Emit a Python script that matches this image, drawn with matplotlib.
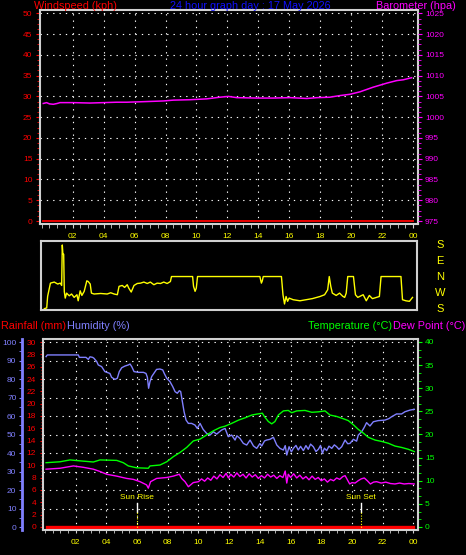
import matplotlib
matplotlib.use('Agg')
import matplotlib.pyplot as plt
import matplotlib.transforms as mtransforms
from matplotlib.ticker import MultipleLocator, AutoMinorLocator

plt.rcParams['font.family'] = ['Liberation Sans', 'DejaVu Sans']

# ---- data ----
title = '24 hour graph day : 17 May 2026'
hour_ticks = [2, 4, 6, 8, 10, 12, 14, 16, 18, 20, 22, 24]
hour_labels = ['02', '04', '06', '08', '10', '12', '14', '16', '18', '20', '22', '00']

# wind speed (kph) - flat zero all day
wind_hours = [0.1, 24.0]
wind_speed = [0, 0]

# barometer (hpa)
baro_hours = [0.1, 0.32, 0.5, 0.75, 1.0, 1.18, 2.04, 3.12, 3.98, 4.84, 5.5, 6.35,
              7.86, 8.5, 9.58, 10.65, 11.5, 12.06, 12.6, 13.9, 14.96, 16.04,
              17.12, 17.8, 18.6, 19.27, 19.9, 20.56, 21.4, 22.3, 22.93, 23.36, 23.9]
baro_values = [1003.3, 1003.5, 1003.2, 1003.1, 1003.3, 1003.5, 1003.5, 1003.4, 1003.5,
               1003.6, 1003.6, 1003.7, 1003.9, 1004.1, 1004.2, 1004.4, 1004.8, 1005.0,
               1004.7, 1004.6, 1004.6, 1004.7, 1004.5, 1004.7, 1004.8, 1005.2, 1005.5,
               1006.1, 1007.2, 1008.2, 1008.8, 1009.0, 1009.5]

# wind direction (degrees)
dir_hours = [0.13, 0.28, 0.34, 0.52, 0.77, 0.99, 1.16, 1.25, 1.29, 1.33, 1.38, 1.42,
             1.48, 1.57, 1.74, 1.89, 2.06, 2.24, 2.32, 2.45, 2.56, 2.71, 2.88, 2.97,
             3.1, 3.18, 3.35, 3.78, 4.2, 4.43, 4.65, 4.86, 4.97, 5.18, 5.33, 5.5, 5.6,
             5.76, 5.94, 6.15, 6.37, 6.58, 6.8, 7.0, 7.23, 7.44, 7.66, 7.87, 8.09, 8.3,
             8.37, 9.74, 9.8, 9.9, 9.98, 10.06, 14.1, 14.2, 14.26, 14.32, 15.5, 15.6,
             15.7, 15.8, 15.9, 16.0, 16.26, 16.7, 17.1, 17.5, 18.0, 18.3, 18.5, 18.6,
             18.7, 18.8, 19.05, 19.27, 19.48, 19.6, 19.7, 19.8, 20.17, 20.3, 20.45,
             20.8, 21.0, 21.2, 21.4, 21.85, 21.96, 23.25, 23.35, 23.57, 23.8, 24.0]
dir_values = [3, 7, 72, 146, 152, 141, 146, 133, 360, 308, 308, 100,
              62, 90, 75, 85, 66, 81, 47, 103, 77, 100, 159, 155,
              141, 90, 85, 88, 85, 92, 85, 81, 128, 133, 122, 137, 118,
              96, 133, 144, 146, 152, 144, 152, 137, 146, 144, 152, 144, 155,
              183, 183, 128, 100, 118, 183, 183, 146, 159, 183, 183, 81,
              29, 71, 44, 62, 53, 47, 53, 59, 71, 81, 109, 183,
              128, 90, 77, 90, 72, 66, 90, 183, 183, 81, 66,
              81, 47, 77, 59, 71, 183, 183, 53, 47, 44, 66]
dir_labels = ['S', 'E', 'N', 'W', 'S']
dir_label_pos = [360, 270, 180, 90, 0]

# humidity (%)
hum_hours = [0.07, 0.15, 2.17, 2.24, 2.67, 2.82, 2.93, 3.1, 3.19, 3.37, 3.47, 3.69, 3.9,
             4.23, 4.34, 4.56, 4.71, 4.84, 5.0, 5.21, 5.43, 5.54, 5.65, 5.8, 6.08,
             6.41, 6.58, 6.67, 6.75, 6.84, 6.95, 7.17, 7.27, 7.49, 7.67, 7.77, 7.93,
             8.14, 8.32, 8.47, 8.62, 8.75, 8.84, 8.95, 9.06, 9.19, 9.34, 9.55, 9.77,
             9.92, 10.1, 10.3, 10.53, 10.75, 10.97, 11.18, 11.5, 11.73, 11.94, 12.16,
             12.38, 12.5, 12.7, 12.92, 13.14, 13.36, 13.58, 13.79, 14.0, 14.12, 14.3,
             14.44, 14.66, 14.88, 15.1, 15.31, 15.53, 15.65, 15.75, 15.9, 16.05, 16.18,
             16.35, 16.5, 16.65, 16.83, 17.0, 17.15, 17.3, 17.48, 17.65, 17.81, 17.95,
             18.07, 18.2, 18.35, 18.5, 18.68, 18.85, 19.0, 19.15, 19.33, 19.55, 19.72,
             19.87, 20.09, 20.3, 20.41, 20.63, 20.8, 20.95, 21.17, 21.39, 21.7, 22.15,
             22.41, 22.58, 22.9, 23.23, 23.45, 23.78, 24.06]
hum_values = [92.1, 93, 93, 91.7, 91.7, 90.6, 92, 91.7, 91.2, 89.4, 87.6, 86.7, 84,
              83, 80.9, 79.8, 80.4, 84, 86.1, 87, 87.6, 88.1, 86.7, 84, 83.6,
              83.6, 83, 80.9, 75, 78.6, 81.3, 84, 85.2, 85.4, 84.9, 83, 80.4,
              78.6, 75.9, 73.2, 72.3, 73.7, 73.2, 67.7, 62.3, 57.8, 56, 56, 55.1,
              53.3, 56, 52.8, 50.6, 49.7, 51.5, 50.2, 52.4, 53.3, 48.8, 49.7,
              47, 49.3, 47.9, 45.2, 44.3, 47, 43.8, 42.5, 45.1, 43.8, 46.5,
              47, 47.4, 48.5, 44.3, 42.5, 41.6, 44.0, 38.9, 43.4, 40.6, 42.5,
              44.1, 41.6, 43.6, 41.3, 44.0, 42, 44.8, 43.4, 40.8, 42, 44.1,
              39.8, 42.6, 41.3, 43.7, 42.5, 44.4, 43.4, 42.0, 43.4, 47, 45.0,
              45.2, 47.4, 46.4, 49.7, 51.5, 53.9, 56.4, 54.6, 56.9, 57.5, 57.8,
              58.6, 59.6, 61.1, 61.1, 62.3, 63.2, 63.6]

# temperature (C)
temp_hours = [0.07, 0.98, 1.63, 2.28, 3.15, 3.58, 4.67, 5.1, 5.43, 5.97, 6.73, 6.84,
              7.49, 7.93, 8.36, 8.79, 9.23, 9.66, 10.1, 10.53, 10.97, 11.4, 11.73,
              12.16, 12.6, 13.03, 13.47, 13.79, 14.16, 14.29, 14.55, 14.77, 14.98,
              15.2, 15.53, 15.85, 16.07, 16.4, 16.94, 17.38, 17.81, 18.24, 18.57,
              19.0, 19.44, 19.76, 20.09, 20.41, 20.74, 21.06, 21.5, 21.93, 22.37,
              22.8, 23.23, 23.67, 24.06]
temp_values = [13.9, 14.1, 14.5, 14.3, 14.05, 14.5, 14.4, 13.9, 13.2, 12.8, 12.7, 13.2,
               13.4, 14.1, 15.2, 16.1, 17.2, 18.6, 19.0, 19.9, 20.8, 21.5, 21.8,
               22.4, 23.1, 23.6, 24.2, 24.4, 24.6, 23.9, 22.8, 22.3, 22.8,
               24.2, 25.1, 25.2, 24.7, 25.1, 25.2, 24.8, 24.9, 25.1, 24.2,
               23.9, 23.4, 23.0, 22.1, 21.1, 20.3, 19.4, 18.8, 18.5, 18.1,
               17.5, 17.2, 16.8, 16.3]

# dew point (C)
dew_hours = [0.07, 0.98, 1.85, 2.5, 3.15, 3.58, 4.02, 4.67, 5.32, 5.75, 6.19, 6.62,
             6.73, 6.88, 7.27, 7.93, 8.36, 8.75, 8.9, 9.12, 9.34, 9.66, 10.0, 10.2,
             10.4, 10.6, 10.8, 11.0, 11.2, 11.4, 11.6, 11.8, 11.95, 12.1, 12.3, 12.5,
             12.7, 12.9, 13.1, 13.3, 13.5, 13.7, 13.9, 14.1, 14.3, 14.5, 14.7, 14.9,
             15.1, 15.3, 15.5, 15.65, 15.75, 15.85, 16.0, 16.2, 16.4, 16.6, 16.8,
             17.0, 17.2, 17.4, 17.6, 17.8, 18.0, 18.2, 18.4, 18.6, 18.8, 19.0, 19.2,
             19.4, 19.55, 19.7, 19.85, 20.0, 20.2, 20.4, 20.6, 20.8, 21.0, 21.2, 21.4,
             21.6, 21.9, 22.2, 22.5, 22.8, 23.1, 23.4, 23.7, 24.05]
dew_values = [12.5, 12.7, 13.2, 12.9, 12.5, 12.0, 11.4, 11.0, 10.5, 10.3, 9.8, 9.1,
              8.4, 9.8, 10.5, 10.7, 11.0, 11.4, 10.5, 9.8, 8.7, 9.6, 9.8, 10.4,
              9.9, 10.6, 10.1, 11.0, 10.4, 11.3, 10.7, 11.6, 10.6, 11.4, 10.8, 11.7,
              10.9, 11.4, 10.6, 11.5, 10.8, 11.3, 10.5, 11.1, 10.6, 11.4, 10.8, 11.2,
              10.5, 11.1, 10.7, 12.1, 9.5, 11.4, 10.7, 11.5, 10.6, 11.2, 10.4,
              10.9, 10.2, 11.0, 10.3, 10.7, 10.0, 10.4, 9.7, 10.3, 10.0, 10.6, 10.3,
              10.9, 11.1, 10.2, 9.3, 9.6, 9.5, 10.0, 10.4, 10.6, 10.0, 9.3, 9.7,
              9.8, 9.5, 9.7, 9.4, 9.3, 9.5, 9.3, 9.4, 9.3]

# rainfall (mm) - none
rain_hours = [0.1, 24.0]
rain_values = [0, 0]

sunrise = 6.0
sunset = 20.6

# ---- styling ----
RED = '#ff0000'
MAG = '#ff00ff'
YEL = '#ffff00'
GRN = '#00ff00'
HUM = '#8080ff'
FRAME = '#d0d0d0'
grid_kw = dict(color='white', lw=0.8, ls=(0, (1.2, 4.5)))

W, H = 466, 555
fig = plt.figure(figsize=(W / 100, H / 100), dpi=100, facecolor='black')


def frac(x0, y0, x1, y1):
    # pixel box -> figure fraction rect
    return [x0 / W, 1 - y1 / H, (x1 - x0) / W, (y1 - y0) / H]


def style_frame(ax):
    ax.set_facecolor('none')
    for s in ax.spines.values():
        s.set_color(FRAME)
        s.set_linewidth(1.5)


# ---- top panel: wind speed + barometer ----
ax_w = fig.add_axes(frac(40, 10, 418, 224))
style_frame(ax_w)
ax_w.set_xlim(-0.11, 24.31)
ax_w.set_ylim(-0.72, 50.8)
ax_w.set_yticks(range(0, 51, 5))
ax_w.yaxis.set_minor_locator(AutoMinorLocator(4))
ax_w.set_xticks(hour_ticks, hour_labels)
ax_w.xaxis.set_minor_locator(MultipleLocator(0.5))
ax_w.tick_params(axis='y', which='both', colors=RED, labelsize=6, length=3, pad=2.5)
ax_w.tick_params(axis='y', which='minor', length=2)
ax_w.tick_params(axis='x', which='both', colors=FRAME, labelcolor=YEL, labelsize=6,
                 length=3, pad=3.5)
for h in hour_ticks:
    ax_w.axvline(h, **grid_kw)
for v in range(5, 51, 5):
    ax_w.axhline(v, **grid_kw)
ax_w.plot(wind_hours, wind_speed, color=RED, lw=1.3)

ax_b = ax_w.twinx()
ax_b.set_facecolor('none')
for s in ax_b.spines.values():
    s.set_visible(False)
ax_b.set_ylim(974.28, 1025.8)
ax_b.set_yticks(range(975, 1026, 5))
ax_b.yaxis.set_minor_locator(AutoMinorLocator(4))
ax_b.tick_params(axis='y', which='both', colors=MAG, labelsize=6, length=3, pad=2)
ax_b.tick_params(axis='y', which='minor', length=2)
ax_b.plot(baro_hours, baro_values, color=MAG, lw=1.1)

fig.text(34 / W, 1 - 6 / H, 'Windspeed (kph)', color=RED, fontsize=7.8, ha='left', va='center')
fig.text(250 / W, 1 - 6 / H, title, color='#1010ff', fontsize=7.8, ha='center', va='center')
fig.text(456 / W, 1 - 6 / H, 'Barometer (hpa)', color=MAG, fontsize=7.8, ha='right', va='center')

# ---- wind direction strip ----
ax_d = fig.add_axes(frac(40.7, 240.7, 417.3, 309.7))
style_frame(ax_d)
ax_d.set_xlim(-0.11, 24.31)
ax_d.set_ylim(-3, 384)
ax_d.set_xticks([])
ax_d.set_yticks([])
ax_d.plot(dir_hours, dir_values, color=YEL, lw=1.0)
trans_d = mtransforms.blended_transform_factory(ax_d.transAxes, ax_d.transData)
for lab, pos in zip(dir_labels, dir_label_pos):
    ax_d.text(1.06, pos, lab, transform=trans_d, color=YEL, fontsize=8,
              ha='center', va='center', clip_on=False)

# ---- bottom panel: rainfall, humidity, temperature, dew point ----
ax_r = fig.add_axes(frac(42.7, 339.3, 418, 530))
style_frame(ax_r)
ax_r.set_xlim(-0.15, 24.3)
ax_r.set_ylim(-0.49, 30.44)
ax_r.set_yticks(range(0, 31, 2))
ax_r.yaxis.set_minor_locator(AutoMinorLocator(4))
ax_r.set_xticks(hour_ticks, hour_labels)
ax_r.xaxis.set_minor_locator(MultipleLocator(0.5))
ax_r.tick_params(axis='y', which='both', colors=RED, labelsize=6, length=2.2, pad=2.5)
ax_r.tick_params(axis='y', which='minor', length=1.5)
ax_r.tick_params(axis='x', which='both', colors=FRAME, labelcolor=YEL, labelsize=6,
                 length=2.5, pad=4)

ax_h = ax_r.twinx()
ax_h.set_facecolor('none')
for s in ax_h.spines.values():
    s.set_visible(False)
ax_h.spines['left'].set_visible(True)
ax_h.spines['left'].set_position(('outward', 14.9))
ax_h.spines['left'].set_color(HUM)
ax_h.spines['left'].set_linewidth(2)
ax_h.yaxis.set_ticks_position('left')
ax_h.set_ylim(-1.62, 101.46)
ax_h.set_yticks(range(0, 101, 10))
ax_h.yaxis.set_minor_locator(AutoMinorLocator(2))
ax_h.tick_params(axis='y', which='both', colors=HUM, labelsize=6, length=2, pad=2)
for h in hour_ticks:
    ax_h.axvline(h, **grid_kw)
for v in range(10, 101, 10):
    ax_h.axhline(v, **grid_kw)
ax_h.plot(hum_hours, hum_values, color=HUM, lw=1.0)

ax_t = ax_r.twinx()
ax_t.set_facecolor('none')
for s in ax_t.spines.values():
    s.set_visible(False)
ax_t.set_ylim(-0.65, 40.58)
ax_t.set_yticks(range(0, 41, 5))
ax_t.yaxis.set_minor_locator(AutoMinorLocator(3))
ax_t.tick_params(axis='y', which='both', colors=GRN, labelsize=6, length=3, pad=2)
ax_t.tick_params(axis='y', which='minor', length=2)
ax_t.plot(temp_hours, temp_values, color=GRN, lw=1.0)
ax_t.plot(dew_hours, dew_values, color=MAG, lw=1.0)

ax_h.set_zorder(1)
ax_t.set_zorder(2)
ax_r.set_zorder(3)
ax_r.plot(rain_hours, rain_values, color=RED, lw=2.4)

# sunrise / sunset markers
trans_r = mtransforms.blended_transform_factory(ax_r.transData, ax_r.transAxes)
for hr, lab in [(sunrise, 'Sun Rise'), (sunset, 'Sun Set')]:
    ax_r.plot([hr, hr], [0.094, 0.142], transform=trans_r, color='white', lw=1)
    ax_r.plot([hr, hr], [0.0, 0.094], transform=trans_r, color=YEL, lw=0.8,
              ls=(0, (1, 1.5)))
    ax_r.text(hr, 0.169, lab, transform=trans_r, color=YEL, fontsize=6,
              ha='center', va='center')

fig.text(1 / W, 1 - 326 / H, 'Rainfall (mm)', color=RED, fontsize=7.8, ha='left', va='center')
fig.text(67 / W, 1 - 326 / H, 'Humidity (%)', color=HUM, fontsize=7.8, ha='left', va='center')
fig.text(392 / W, 1 - 326 / H, 'Temperature (°C)', color=GRN, fontsize=7.8, ha='right', va='center')
fig.text(393 / W, 1 - 326 / H, 'Dew Point (°C)', color=MAG, fontsize=7.8, ha='left', va='center')

fig.savefig('out.png', dpi=100, facecolor='black')
